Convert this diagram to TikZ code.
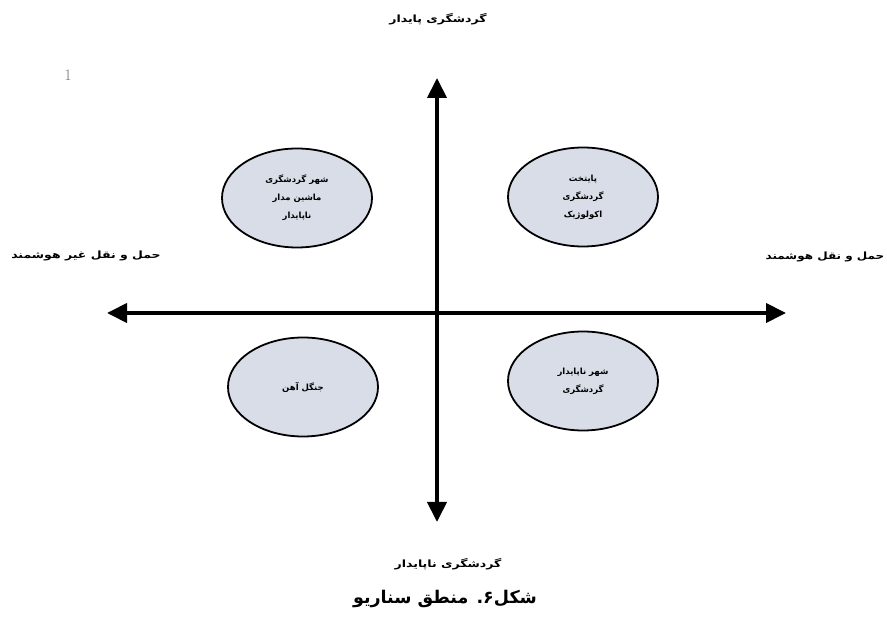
\documentclass[tikz,border=0pt]{standalone}
\usepackage{fontspec}
\usetikzlibrary{arrows.meta,shapes.geometric}
\TeXXeTstate=1
\newfontfamily\fafont[Script=Arabic]{DejaVu Sans}
\definecolor{scenfill}{RGB}{216,221,232}
\newcommand{\wfa}[2]{\scalebox{#1}[1]{\fafont #2}}
\tikzset{
  axis/.style={line width=4pt, {Triangle[length=20pt,width=19pt]}-{Triangle[length=20pt,width=19pt]}},
  scenario/.style={ellipse, draw, line width=1.8pt, fill=scenfill, minimum width=150pt,
    minimum height=99pt, align=center, font=\fontsize{8.5}{18}\bfseries\selectfont, inner sep=0pt},
  axislabel/.style={font=\fontsize{10}{12}\bfseries\selectfont}
}
\begin{document}
\begin{tikzpicture}[x=1pt,y=-1pt]
    \useasboundingbox (0,0) rectangle (887,617);
    % Achsen
    \coordinate (west) at (107,313);
    \coordinate (east) at (786,313);
    \coordinate (north) at (437,78);
    \coordinate (south) at (437,522);
    \draw[axis] (west) -- (east);
    \draw[axis] (south) -- (north);
    % Achsenbeschriftung
    \node[axislabel] (top) at (438,19) {\wfa{1.25}{\beginR گردشگری پایدار\endR}};
    \node[axislabel] (bottom) at (448,564) {\wfa{1.25}{\beginR گردشگری ناپایدار\endR}};
    \node[axislabel] (left) at (86,256) {\wfa{1.25}{\beginR حمل و نقل غیر هوشمند\endR}};
    \node[axislabel] (right) at (825,257) {\wfa{1.2}{\beginR حمل و نقل هوشمند\endR}};
    % Szenarien
    \node[scenario] (ecocapital) at (583,197)
      {\wfa{1}{\beginR پایتخت\endR}\\\wfa{1}{\beginR گردشگری\endR}\\\wfa{1}{\beginR اکولوژیک\endR}};
    \node[scenario] (carcity) at (297,198)
      {\wfa{1}{\beginR شهر گردشگری\endR}\\\wfa{1}{\beginR ماشین مدار\endR}\\\wfa{1}{\beginR ناپایدار\endR}};
    \node[scenario] (ironjungle) at (303,387) {\wfa{1}{\beginR جنگل آهن\endR}};
    \node[scenario] (unsustcity) at (583,381)
      {\wfa{1}{\beginR شهر ناپایدار\endR}\\\wfa{1}{\beginR گردشگری\endR}};
    % Fussnote und Titel
    \node[text=black!55, font=\fontsize{16}{18}\selectfont] (mark) at (68,75) {1};
    \node[font=\fontsize{17.5}{20}\bfseries\selectfont] (caption) at (445,599)
      {\fafont\beginR شکل۶. منطق سناریو\endR};
\end{tikzpicture}
\end{document}
